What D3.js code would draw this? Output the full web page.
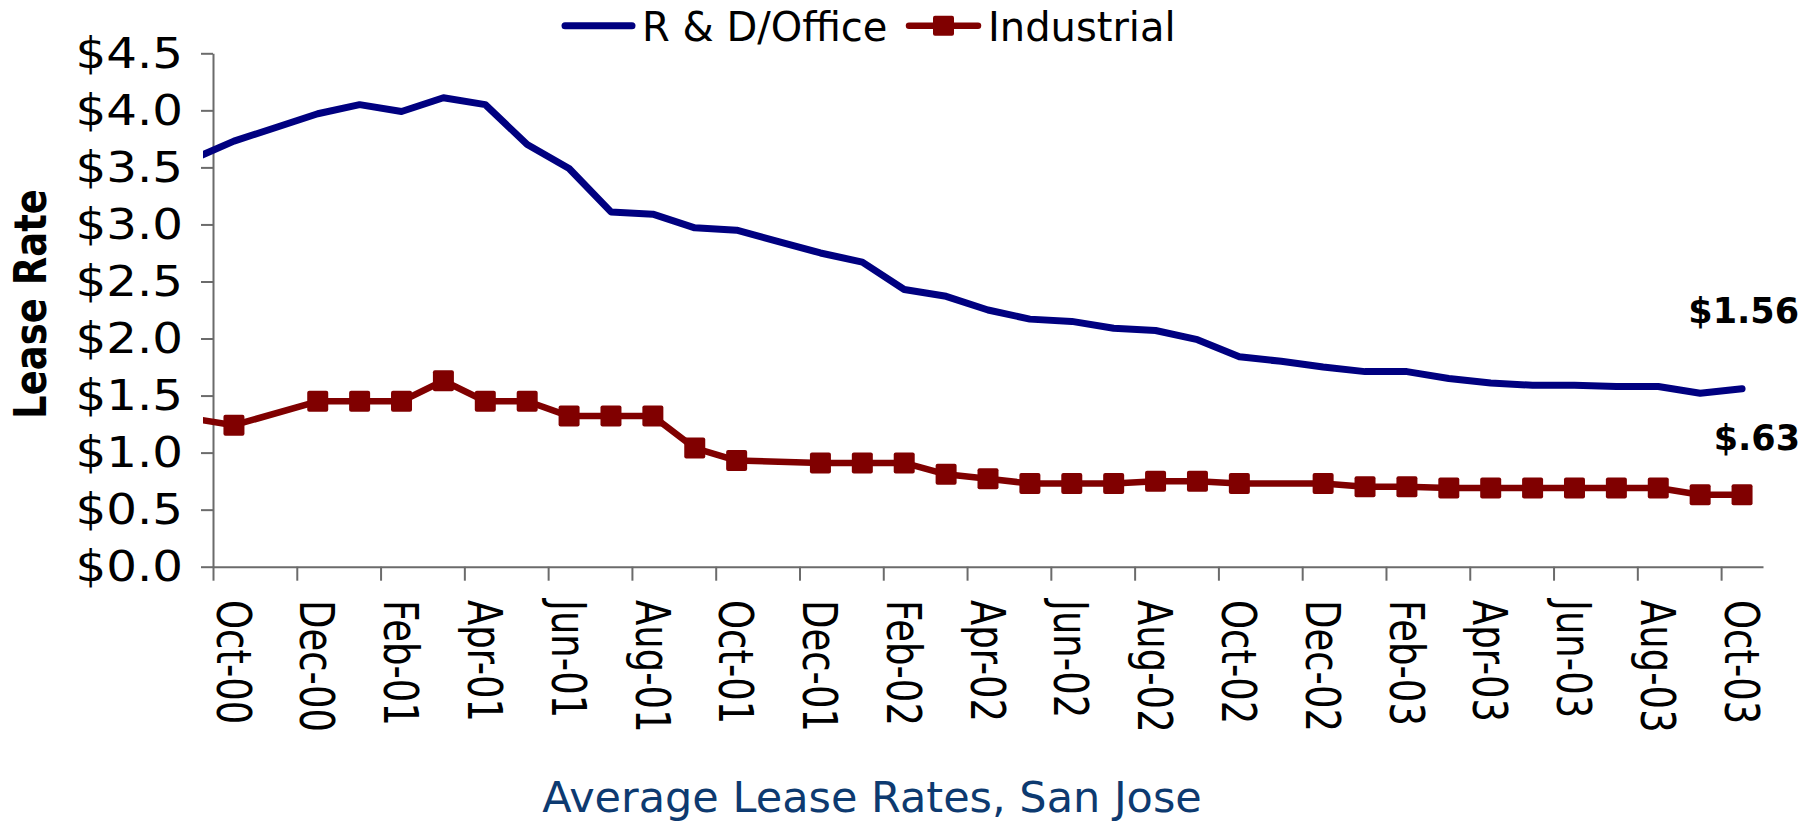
<!DOCTYPE html>
<html lang="en">
<head>
  <title>Average Lease Rates, San Jose</title>
  <meta charset="utf-8">
  <script src="https://d3js.org/d3.v7.min.js" charset="utf-8"></script>
  <style>
    body { margin: 0; background: #fff; }
    text { font-family: "DejaVu Sans", Verdana, sans-serif; }
  </style>
</head>
<body>
  <script>
  // monthly categories, first one (Sep-00) sits just left of the axis and is clipped
  var months = ["Sep-00","Oct-00","Nov-00","Dec-00","Jan-01","Feb-01","Mar-01","Apr-01","May-01",
    "Jun-01","Jul-01","Aug-01","Sep-01","Oct-01","Nov-01","Dec-01","Jan-02","Feb-02","Mar-02",
    "Apr-02","May-02","Jun-02","Jul-02","Aug-02","Sep-02","Oct-02","Nov-02","Dec-02","Jan-03",
    "Feb-03","Mar-03","Apr-03","May-03","Jun-03","Jul-03","Aug-03","Sep-03","Oct-03"];

  var rdOffice = [3.57, 3.73, 3.85, 3.97, 4.05, 3.99, 4.11, 4.05, 3.70,
    3.49, 3.11, 3.09, 2.97, 2.95, 2.85, 2.75, 2.67, 2.43, 2.37,
    2.25, 2.17, 2.15, 2.09, 2.07, 1.99, 1.84, 1.80, 1.75, 1.71,
    1.71, 1.65, 1.61, 1.59, 1.59, 1.58, 1.58, 1.52, 1.56];

  // null = no reading that month (line just runs across)
  var industrial = [1.30, 1.24, null, 1.45, 1.45, 1.45, 1.63, 1.45, 1.45,
    1.32, 1.32, 1.32, 1.04, 0.93, null, 0.91, 0.91, 0.91, 0.81,
    0.77, 0.73, 0.73, 0.73, 0.75, 0.75, 0.73, null, 0.73, 0.70,
    0.70, 0.69, 0.69, 0.69, 0.69, 0.69, 0.69, 0.63, 0.63];

  var yTicks = [0, 0.5, 1, 1.5, 2, 2.5, 3, 3.5, 4, 4.5];
  var seriesNames = ["R & D/Office", "Industrial"];
  var endLabels = ["$1.56", "$.63"];

  var w = 1820;
  var h = 823;
  var blue = "#000080";
  var red = "#800000";
  var axisGrey = "#6b6b6b";

  var svg = d3.select("body")
    .append("svg")
    .attr("width", w)
    .attr("height", h);

  var x = d3.scaleLinear()
    .domain([0.5, months.length - 0.5])
    .range([213, 1763]);

  var y = d3.scaleLinear()
    .domain([0, 4.5])
    .range([566.7, 53.3]);

  svg.append("clipPath")
    .attr("id", "plot")
    .append("rect")
    .attr("x", x(0.5) - 10)
    .attr("y", 0)
    .attr("width", x(months.length - 0.5) - x(0.5) + 20)
    .attr("height", y(0));

  // y axis
  var yAxis = svg.append("g")
    .attr("transform", "translate(" + x(0.5) + ",0)")
    .call(d3.axisLeft(y)
      .tickValues(yTicks)
      .tickFormat(function(d) { return "$" + d.toFixed(1); })
      .tickSize(12)
      .tickSizeOuter(0));

  // labels are wide in the original, so stretch them sideways
  var ySx = 1.15;
  yAxis.selectAll("text")
    .attr("x", -30 / ySx)
    .attr("dy", "0.34em")
    .attr("transform", "scale(" + ySx + ",1)")
    .attr("font-size", 42)
    .attr("fill", "#000")
    .style("font-family", "'DejaVu Sans', sans-serif");

  // x axis: marks every 2 months on category boundaries
  var xAxis = svg.append("g")
    .attr("transform", "translate(0," + y(0) + ")")
    .call(d3.axisBottom(x)
      .tickValues(d3.range(0.5, months.length - 1, 2))
      .tickFormat("")
      .tickSize(14)
      .tickSizeOuter(0));

  svg.selectAll(".domain, .tick line")
    .attr("stroke", axisGrey)
    .attr("stroke-width", 2);

  // rotated month labels (every other month from Oct-00)
  var labelled = months.map(function(m, i) { return {m: m, i: i}; })
    .filter(function(d) { return d.i >= 1 && (d.i - 1) % 2 == 0; });

  svg.append("g")
    .selectAll("text")
    .data(labelled)
    .enter()
    .append("text")
    .attr("transform", function(d) {
      return "translate(" + x(d.i) + ",600) scale(1.3,1) rotate(90)";
    })
    .attr("dy", "0.36em")
    .attr("font-size", 37)
    .attr("fill", "#000")
    .text(function(d) { return d.m; });

  // lines
  var line = d3.line()
    .x(function(d) { return x(d.i); })
    .y(function(d) { return y(d.v); });

  var rdPts = rdOffice.map(function(v, i) { return {i: i, v: v}; });
  var indPts = industrial.map(function(v, i) { return {i: i, v: v}; })
    .filter(function(d) { return d.v != null; });

  var plot = svg.append("g").attr("clip-path", "url(#plot)");

  plot.append("path")
    .datum(rdPts)
    .attr("d", line)
    .attr("fill", "none")
    .attr("stroke", blue)
    .attr("stroke-width", 7)
    .attr("stroke-linejoin", "round")
    .attr("stroke-linecap", "round");

  plot.append("path")
    .datum(indPts)
    .attr("d", line)
    .attr("fill", "none")
    .attr("stroke", red)
    .attr("stroke-width", 6.5)
    .attr("stroke-linejoin", "round")
    .attr("stroke-linecap", "round");

  plot.selectAll("rect.mk")
    .data(indPts)
    .enter()
    .append("rect")
    .attr("class", "mk")
    .attr("x", function(d) { return x(d.i) - 10.5; })
    .attr("y", function(d) { return y(d.v) - 10.5; })
    .attr("width", 21)
    .attr("height", 21)
    .attr("rx", 2)
    .attr("fill", red);

  // end value labels
  svg.append("text")
    .attr("x", 1799)
    .attr("y", 323)
    .attr("text-anchor", "end")
    .attr("font-size", 35)
    .attr("font-weight", "bold")
    .text(endLabels[0]);

  svg.append("text")
    .attr("x", 1800)
    .attr("y", 450)
    .attr("text-anchor", "end")
    .attr("font-size", 35)
    .attr("font-weight", "bold")
    .text(endLabels[1]);

  // y title
  svg.append("text")
    .attr("transform", "translate(46,304) scale(1.2,1) rotate(-90)")
    .attr("text-anchor", "middle")
    .attr("font-size", 37)
    .attr("font-weight", "bold")
    .text("Lease Rate");

  // legend
  var legend = svg.append("g");
  legend.append("line")
    .attr("x1", 565).attr("x2", 632)
    .attr("y1", 25.7).attr("y2", 25.7)
    .attr("stroke", blue)
    .attr("stroke-width", 7)
    .attr("stroke-linecap", "round");
  legend.append("text")
    .attr("x", 642)
    .attr("y", 41)
    .attr("font-size", 40)
    .text(seriesNames[0]);

  legend.append("line")
    .attr("x1", 909).attr("x2", 978)
    .attr("y1", 25.7).attr("y2", 25.7)
    .attr("stroke", red)
    .attr("stroke-width", 6.5)
    .attr("stroke-linecap", "round");
  legend.append("rect")
    .attr("x", 933).attr("y", 15.7)
    .attr("width", 21).attr("height", 20)
    .attr("rx", 2)
    .attr("fill", red);
  legend.append("text")
    .attr("x", 988)
    .attr("y", 41)
    .attr("font-size", 40)
    .text(seriesNames[1]);

  // caption
  svg.append("text")
    .attr("x", 872)
    .attr("y", 812)
    .attr("text-anchor", "middle")
    .attr("font-size", 43)
    .attr("fill", "#0d3a70")
    .text("Average Lease Rates, San Jose");
  </script>
</body>
</html>
